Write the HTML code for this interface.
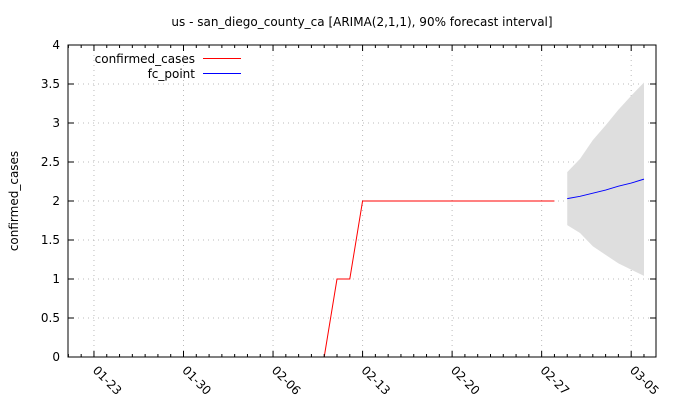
<!DOCTYPE html>
<html><head><meta charset="utf-8"><style>
html,body{margin:0;padding:0;background:#fff;}
svg{display:block;font-family:"DejaVu Sans","Liberation Sans",sans-serif;font-size:12px;}
</style></head><body>
<svg id="chart" width="680" height="400">
<text x="362" y="26" text-anchor="middle">us - san_diego_county_ca [ARIMA(2,1,1), 90% forecast interval]</text>
<text transform="translate(18,201) rotate(-90)" text-anchor="middle">confirmed_cases</text>
<g id="grid"></g><g id="band"></g><g id="lines"></g><g id="axes"></g>
<g>
<text x="195" y="63" text-anchor="end">confirmed_cases</text>
<line x1="203" y1="58.5" x2="241" y2="58.5" stroke="#f00"/>
<text x="195" y="78" text-anchor="end">fc_point</text>
<line x1="203" y1="73.5" x2="241" y2="73.5" stroke="#00f"/>
</g>
</svg>
<script>
const xTickLabels=["01-23","01-30","02-06","02-13","02-20","02-27","03-05"];
const xTickDays=[0,7,14,21,28,35,42];
const yTicks=[0,0.5,1,1.5,2,2.5,3,3.5,4];
const actualDays=[18,19,20,21,22,23,24,25,26,27,28,29,30,31,32,33,34,35,36];
const actualValues=[0,1,1,2,2,2,2,2,2,2,2,2,2,2,2,2,2,2,2];
const fcDays=[37,38,39,40,41,42,43];
const fcPoint=[2.03,2.06,2.10,2.14,2.19,2.23,2.28];
const fcUpper=[2.37,2.54,2.78,2.97,3.17,3.35,3.52];
const fcLower=[1.69,1.59,1.42,1.31,1.20,1.12,1.04];
const L=68,R=656,T=45,B=357,D0=-2.03,D1=43.94;
const x=d=>L+(d-D0)/(D1-D0)*(R-L);
const y=v=>B-v/4*(B-T);
const NS="http://www.w3.org/2000/svg";
function mk(p,tag,a){const e=document.createElementNS(NS,tag);for(const k in a)e.setAttribute(k,a[k]);p.appendChild(e);return e;}
const grid=document.getElementById('grid'),axes=document.getElementById('axes'),band=document.getElementById('band'),lines=document.getElementById('lines');
yTicks.forEach(v=>{
 if(v>0&&v<4){const g=mk(grid,'line',{x1:L,x2:R,y1:y(v),y2:y(v),stroke:'#bbb','stroke-dasharray':'1 4'});
 
 }
 mk(axes,'line',{x1:L,x2:L+6,y1:y(v),y2:y(v),stroke:'#000'});
 mk(axes,'line',{x1:R-6,x2:R,y1:y(v),y2:y(v),stroke:'#000'});
 const t=mk(axes,'text',{x:L-8,y:y(v)+4,'text-anchor':'end'});t.textContent=String(v);
 
 
});
for(let d=-2;d<=43;d++){
 const major=xTickDays.includes(d),len=major?6:3;
 mk(axes,'line',{x1:x(d),x2:x(d),y1:B,y2:B-len,stroke:'#000'});
 mk(axes,'line',{x1:x(d),x2:x(d),y1:T,y2:T+len,stroke:'#000'});
}
xTickDays.forEach((d,i)=>{
 const g=mk(grid,'line',{x1:x(d),x2:x(d),y1:T,y2:B,stroke:'#bbb','stroke-dasharray':'1 4'});
 
 
 const t=mk(axes,'text',{transform:`translate(${x(d)-2},${B+14}) rotate(45)`});t.textContent=xTickLabels[i];
 
 
});
mk(axes,'rect',{x:L,y:T,width:R-L,height:B-T,fill:'none',stroke:'#000'});
let pts=fcDays.map((d,i)=>x(d)+','+y(fcUpper[i])).concat(fcDays.map((d,i)=>x(d)+','+y(fcLower[i])).reverse());
const poly=mk(band,'polygon',{points:pts.join(' '),fill:'#dedede'});


const a=mk(lines,'polyline',{points:actualDays.map((d,i)=>x(d)+','+y(actualValues[i])).join(' '),fill:'none',stroke:'#f00'});


const f=mk(lines,'polyline',{points:fcDays.map((d,i)=>x(d)+','+y(fcPoint[i])).join(' '),fill:'none',stroke:'#00f'});


</script>
</body></html>
